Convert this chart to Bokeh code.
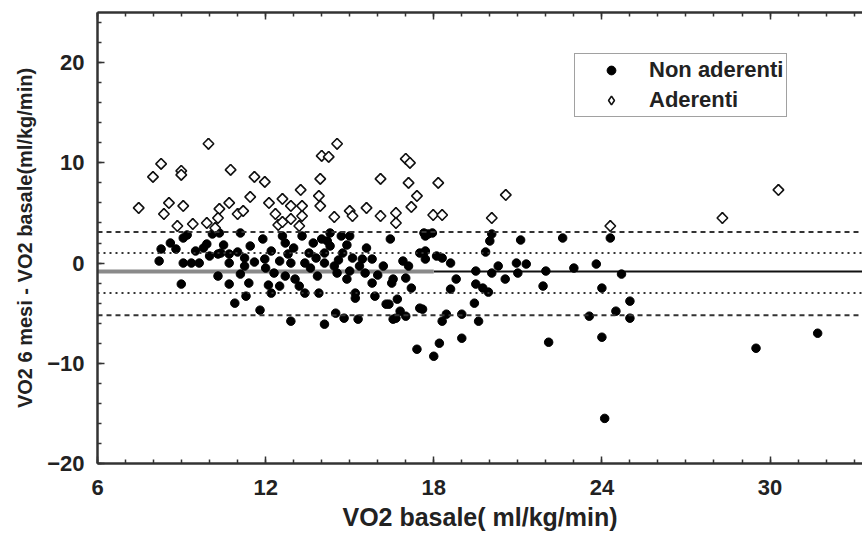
import math
from bokeh.plotting import figure
from bokeh.models import (Span, Legend, LegendItem, LinearAxis, SingleIntervalTicker,
                          Range1d, CustomLabelingPolicy)
from bokeh.embed import file_html
from bokeh.resources import INLINE

# --- data (VO2 basale vs change at 6 months) ---
aderenti_x = [7.47, 7.98, 8.27, 8.37, 8.55, 8.99, 8.99, 9.06, 8.85, 9.96, 9.4, 9.9,
              10.35, 10.3, 10.2, 10.7, 10.75, 11.0, 11.2, 11.45, 11.6, 11.97, 12.12,
              12.35, 12.45, 12.6, 12.6, 12.9, 12.9, 13.25, 13.3, 13.3, 13.2, 13.95,
              13.9, 13.95, 14.0, 14.25, 14.55, 14.45, 15.0, 15.1, 15.6, 16.1, 16.1,
              16.65, 16.65, 17.0, 17.15, 17.1, 17.4, 17.2, 18.16, 17.98, 18.3, 20.07,
              20.57, 24.3, 28.3, 30.3]
aderenti_y = [5.5, 8.6, 9.9, 4.9, 6.0, 9.2, 8.8, 5.7, 3.7, 11.9, 3.9, 4.0,
              5.4, 4.5, 3.5, 6.0, 9.3, 4.9, 5.2, 6.6, 8.6, 8.1, 6.0,
              4.9, 3.8, 6.4, 4.1, 4.4, 5.7, 7.3, 5.7, 4.7, 3.7, 8.4,
              6.7, 5.7, 10.7, 10.6, 11.9, 4.6, 5.2, 4.7, 5.5, 8.4, 4.7,
              5.0, 4.0, 10.4, 10.0, 8.0, 6.7, 5.6, 8.0, 4.8, 4.8, 4.5,
              6.8, 3.7, 4.5, 7.3]

non_aderenti_x = [8.2, 8.27, 8.6, 8.8, 9.06, 9.2, 9.06, 9.35, 9.63, 9.78, 9.9, 10.0,
                  10.1, 10.3, 10.4, 10.7, 10.7, 11.0, 11.1, 11.25, 11.25, 11.45, 11.6,
                  11.9, 11.97, 12.5, 12.3, 8.99, 10.3, 10.7, 10.9, 11.3, 11.4, 11.8,
                  12.1, 12.2, 11.1, 10.35, 10.5, 9.5, 12.2, 12.0,
                  12.7, 12.6, 12.8, 12.9, 12.7, 12.5, 13.05, 13.2, 13.4, 12.9, 13.3,
                  13.4, 13.55, 13.85, 13.9, 14.0, 14.1, 14.1, 14.1, 14.3, 14.3, 14.45,
                  14.55, 14.5, 14.7, 14.75, 14.8, 14.9, 15.0, 15.1, 15.2, 15.2, 15.3,
                  15.35, 15.45, 15.55, 15.8, 15.9, 16.4, 16.45, 16.55, 16.7, 16.8,
                  16.55, 17.0, 17.1, 17.5, 17.5, 17.7, 17.8, 17.7, 16.2, 15.8, 16.5,
                  17.0, 17.2, 13.7, 14.2, 13.6, 14.9, 15.6, 13.0, 13.8, 14.6, 15.0,
                  16.0, 16.9, 17.65, 17.95,
                  17.7, 18.1, 18.3, 18.6, 18.8, 18.6, 17.6, 18.45, 18.3, 19.0, 19.0,
                  18.2, 18.0, 17.4, 19.5, 19.5, 19.75, 19.95, 19.45, 19.6, 19.85,
                  20.0, 20.07, 20.07, 20.3, 20.55, 20.95, 21.1, 21.3, 21.0, 21.9,
                  22.0, 22.1, 22.6, 16.65, 16.3,
                  23.0, 23.8, 24.3, 24.7, 24.0, 25.0, 24.5, 25.0, 23.55, 24.0, 24.1,
                  29.5, 31.7]
non_aderenti_y = [0.2, 1.4, 2.0, 1.4, 2.5, 2.8, 0.0, 0.0, 0.0, 1.5, 1.9, 0.7,
                  2.9, 0.9, 1.0, 0.9, 0.0, 1.1, 3.0, 0.5, -0.3, 1.7, 0.1,
                  2.4, 0.4, 0.2, -1.0, -2.1, -1.3, -2.1, -4.0, -3.3, -2.0, -4.7,
                  -2.2, -3.0, -1.1, 3.0, 1.8, 1.2, 1.2, -0.5,
                  2.0, 2.7, 0.9, 0.0, -1.3, -2.3, -1.6, -2.3, -3.0, -5.8, 2.7,
                  0.0, 1.0, -1.3, -3.0, 2.4, 1.0, 0.0, -6.1, 3.0, 1.7, -0.3,
                  -1.0, -5.0, 2.7, 1.0, -5.5, -1.6, 2.7, 0.5, -3.0, -3.5, -5.6,
                  -0.3, 0.4, -1.0, -2.0, -3.3, -4.1, 2.4, -1.6, -3.6, -4.8,
                  -5.6, -5.3, -0.3, -4.5, 1.0, 2.7, 2.9, 0.4, -0.3, 0.4, -2.0,
                  -1.5, -2.5, 2.0, 2.2, -0.5, 1.8, 1.5, 1.5, 0.5, 0.3, -0.8,
                  -1.2, 0.2, 3.0, 3.0,
                  1.2, 0.7, 0.5, 0.0, -1.6, -2.6, -4.6, -5.1, -5.8, -5.1, -7.5,
                  -8.0, -9.3, -8.6, -0.8, -2.1, -2.5, -2.9, -4.0, -5.8, 1.1,
                  2.2, 2.9, -1.0, -0.3, -1.6, 0.0, 2.3, -0.1, -1.0, -2.3,
                  -0.8, -7.9, 2.5, -5.5, -4.1,
                  -0.5, -0.1, 2.5, -1.1, -2.5, -3.8, -4.8, -5.5, -5.3, -7.4, -15.5,
                  -8.5, -7.0]

mean_diff = -0.85
dashed_levels = [3.1, -5.2]
dotted_levels = [1.0, -3.0]
gray_part_end = 18.0

x_start, x_end = 6, 33.3
y_start, y_end = -20, 25

series_labels = ["Non aderenti", "Aderenti"]
x_title = "VO2 basale( ml/kg/min)"
y_title = "VO2 6 mesi - VO2 basale(ml/kg/min)"

FONT = "Liberation Sans"
INK = "#222222"
AXC = "#333333"

p = figure(width=862, height=541, output_backend="svg", toolbar_location=None,
           x_range=Range1d(x_start, x_end), y_range=Range1d(y_start, y_end),
           x_axis_location=None, y_axis_location=None)
p.min_border_left = 97
p.min_border_right = 0
p.min_border_top = 12
p.min_border_bottom = 78
p.outline_line_color = None
p.xgrid.visible = False
p.ygrid.visible = False
p.background_fill_color = "white"
p.border_fill_color = "white"


def style_axis(ax):
    ax.axis_line_color = AXC
    ax.axis_line_width = 2.5
    ax.major_tick_line_color = AXC
    ax.minor_tick_line_color = AXC
    ax.major_tick_line_width = 1.5
    ax.minor_tick_line_width = 1.5
    ax.major_tick_in = 7
    ax.major_tick_out = 0
    ax.minor_tick_in = 4
    ax.minor_tick_out = 0
    ax.major_label_text_font = FONT
    ax.major_label_text_font_style = "bold"
    ax.major_label_text_font_size = "22px"
    ax.major_label_text_color = INK
    ax.axis_label_text_font = FONT
    ax.axis_label_text_font_style = "bold"
    ax.axis_label_text_color = INK


xb = LinearAxis(ticker=SingleIntervalTicker(interval=6, num_minor_ticks=6))
style_axis(xb)
xb.major_label_standoff = 16
xb.axis_label = x_title
xb.axis_label_text_font_size = "25px"
xb.axis_label_standoff = 5
p.add_layout(xb, "below")

xt = LinearAxis(ticker=SingleIntervalTicker(interval=6, num_minor_ticks=6))
style_axis(xt)
xt.major_label_standoff = 0
xt.major_label_text_font_size = "6px"
xt.major_label_policy = CustomLabelingPolicy(code="""
    const all = [...indices];
    for (const i of all) { indices.unset(i) }
    return indices
""")
p.add_layout(xt, "above")

yl = LinearAxis(ticker=SingleIntervalTicker(interval=10, num_minor_ticks=5))
style_axis(yl)
yl.major_label_standoff = 13
yl.axis_label = y_title
yl.axis_label_text_font_size = "20px"
yl.axis_label_standoff = 8
p.add_layout(yl, "left")

# reference lines
for lv in dashed_levels:
    p.add_layout(Span(location=lv, dimension="width", line_color=AXC,
                      line_width=2, line_dash="5 4"))
for lv in dotted_levels:
    p.add_layout(Span(location=lv, dimension="width", line_color=AXC,
                      line_width=2, line_dash="2 4"))
p.line([gray_part_end, x_end], [mean_diff, mean_diff], line_color="#111111", line_width=2)
p.line([x_start, gray_part_end], [mean_diff, mean_diff], line_color="#8a8a8a", line_width=4)

r_non = p.scatter(non_aderenti_x, non_aderenti_y, marker="circle", size=8.5,
                  fill_color="black", line_color="black", line_width=1)
# diamond-marker copy (hidden under the rotated squares) that serves as legend key
r_ad_key = p.scatter(aderenti_x, aderenti_y, marker="diamond", size=10.5,
                     fill_color="white", line_color="#111111", line_width=1.6)
r_ad = p.scatter(aderenti_x, aderenti_y, marker="square", angle=math.pi / 4, size=7.5,
                 fill_color="white", line_color="#111111", line_width=1.6)

legend = Legend(items=[LegendItem(label=series_labels[0], renderers=[r_non]),
                       LegendItem(label=series_labels[1], renderers=[r_ad_key])],
                location=(477, 346))
legend.label_text_font = FONT
legend.label_text_font_style = "bold"
legend.label_text_font_size = "22px"
legend.label_text_color = INK
legend.border_line_color = "#444444"
legend.border_line_width = 1.5
legend.padding = 3
legend.spacing = 4
legend.glyph_width = 66
legend.glyph_height = 22
legend.label_height = 22
legend.label_standoff = 5
legend.margin = 0
legend.background_fill_color = "white"
p.add_layout(legend, "center")

open("out.html", "w").write(file_html(p, INLINE))
